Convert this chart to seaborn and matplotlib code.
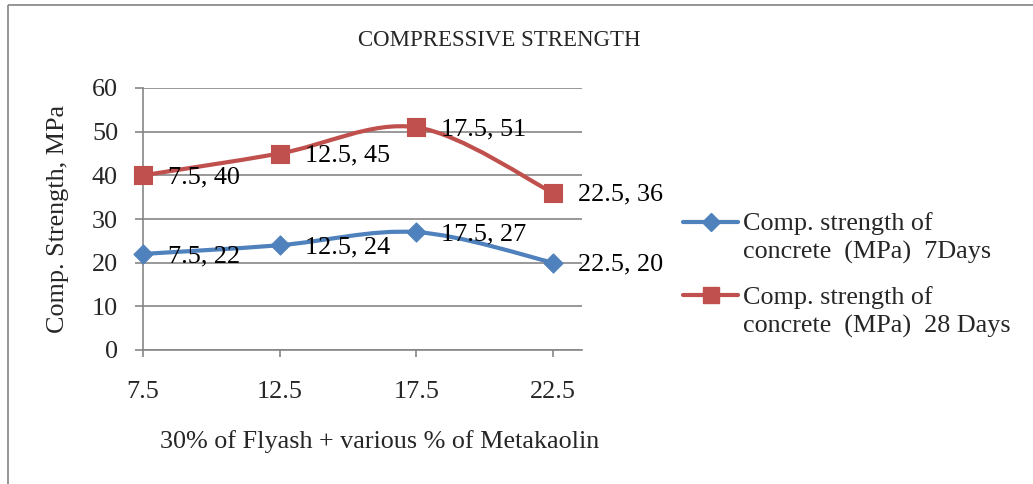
import numpy as np
import pandas as pd
import matplotlib
matplotlib.use("Agg")
import matplotlib.pyplot as plt
import seaborn as sns
from matplotlib.path import Path
from matplotlib.patches import PathPatch, Rectangle
from matplotlib.lines import Line2D

# Data
metakaolin_pct = [7.5, 12.5, 17.5, 22.5]
strength_7d = [22, 24, 27, 20]
strength_28d = [40, 45, 51, 36]
series_names = ["Comp. strength of\nconcrete  (MPa)  7Days",
                "Comp. strength of\nconcrete  (MPa)  28 Days"]
y_ticks = [0, 10, 20, 30, 40, 50, 60]
x_ticks = [7.5, 12.5, 17.5, 22.5]

title_text = "COMPRESSIVE STRENGTH"
x_label = "30% of Flyash + various % of Metakaolin"
y_label = "Comp. Strength, MPa"

blue = "#4F81BD"
red = "#C0504D"
grey = "#868686"

sns.set_theme(style="white")
plt.rcParams["font.family"] = ["Liberation Serif", "DejaVu Serif"]

W, H = 1033, 484
fig = plt.figure(figsize=(W / 100, H / 100), dpi=100)
fig.patch.set_facecolor("white")


def px(x, y):
    """pixel position (from top-left) -> figure fraction"""
    return x / W, 1 - y / H


# outer chart frame (top and left edges visible)
fig.patches.append(Rectangle(px(8, 5), (W + 10 - 8) / W, -(H + 10) / H,
                             transform=fig.transFigure, fill=False,
                             edgecolor="#8c8c8c", linewidth=1.3))

ax = fig.add_axes([143 / W, 1 - 350 / H, (582 - 143) / W, (350 - 88) / H])
ax.set_facecolor("white")


def smooth_path(xs, ys):
    """Cubic Bezier path through the points (Catmull-Rom style tangents)."""
    pts = np.column_stack([xs, ys]).astype(float)
    n = len(pts)
    verts = [pts[0]]
    codes = [Path.MOVETO]
    for i in range(n - 1):
        p0 = pts[i - 1] if i > 0 else pts[i]
        p1 = pts[i]
        p2 = pts[i + 1]
        p3 = pts[i + 2] if i + 2 < n else pts[i + 1]
        c1 = p1 + (p2 - p0) / 6.0
        c2 = p2 - (p3 - p1) / 6.0
        verts += [c1, c2, p2]
        codes += [Path.CURVE4] * 3
    return Path(verts, codes)


for ys, col in [(strength_7d, blue), (strength_28d, red)]:
    ax.add_patch(PathPatch(smooth_path(metakaolin_pct, ys), facecolor="none",
                           edgecolor=col, linewidth=3.0, capstyle="round",
                           joinstyle="round", zorder=3, clip_on=False))

df = pd.DataFrame({
    "x": metakaolin_pct * 2,
    "y": strength_7d + strength_28d,
    "series": [series_names[0]] * 4 + [series_names[1]] * 4,
})
sns.scatterplot(data=df[df.series == series_names[0]], x="x", y="y",
                marker="D", s=95, color=blue, edgecolor=blue, linewidth=0.8,
                ax=ax, zorder=4, clip_on=False, legend=False)
sns.scatterplot(data=df[df.series == series_names[1]], x="x", y="y",
                marker="s", s=150, color=red, edgecolor=red, linewidth=0.8,
                ax=ax, zorder=4, clip_on=False, legend=False)

# data labels
label_fs = 18.8
for xs, ys in [(metakaolin_pct, strength_7d), (metakaolin_pct, strength_28d)]:
    for xv, yv in zip(xs, ys):
        ax.annotate(f"{xv:g}, {yv:g}", xy=(xv, yv), xytext=(18, -1.5),
                    textcoords="offset points", ha="left", va="center",
                    fontsize=label_fs, color="black", zorder=5,
                    annotation_clip=False)

ax.set_xlim(7.5, 23.56)
ax.set_ylim(0, 60)
ax.set_xticks(x_ticks)
ax.set_xticklabels([f"{t:g}" for t in x_ticks])
ax.set_yticks(y_ticks)
ax.yaxis.grid(True, color=grey, linewidth=1.2)
ax.xaxis.grid(False)
ax.set_axisbelow(True)
for side in ["top", "right"]:
    ax.spines[side].set_visible(False)
for side in ["left", "bottom"]:
    ax.spines[side].set_color(grey)
    ax.spines[side].set_linewidth(1.2)
ax.tick_params(axis="y", which="major", direction="out", length=6,
               width=1.2, color=grey, labelsize=label_fs, pad=12, left=True)
ax.tick_params(axis="x", which="major", direction="out", length=5,
               width=1.2, color=grey, labelsize=label_fs, pad=17, bottom=True)

ax.set_xlabel(x_label, fontsize=label_fs)
ax.set_ylabel(y_label, fontsize=label_fs)
ax.xaxis.label.set_va("center")
ax.yaxis.label.set_va("center")
ax.xaxis.set_label_coords((380 - 143) / (582 - 143), (350 - 442) / (350 - 88))
ax.yaxis.set_label_coords((58 - 143) / (582 - 143), (350 - 219) / (350 - 88))

fig.text(*px(499, 41), title_text, ha="center", va="center", fontsize=16.5)

# legend
for (hy, ty), col, mk, ms, name in [((222, 238), blue, "D", 9.5, series_names[0]),
                                     ((295, 312), red, "s", 12, series_names[1])]:
    x0, y0 = px(683, hy)
    x1, _ = px(738, hy)
    fig.lines.append(Line2D([x0, x1], [y0, y0], transform=fig.transFigure,
                            color=col, linewidth=3.0, solid_capstyle="round"))
    fig.lines.append(Line2D([(x0 + x1) / 2], [y0], transform=fig.transFigure,
                            color=col, marker=mk, markersize=ms,
                            markeredgecolor=col, linestyle="none"))
    fig.text(*px(743, ty), name, ha="left", va="center",
             fontsize=label_fs, linespacing=1.3)

fig.savefig("out.png", dpi=100, facecolor="white")
